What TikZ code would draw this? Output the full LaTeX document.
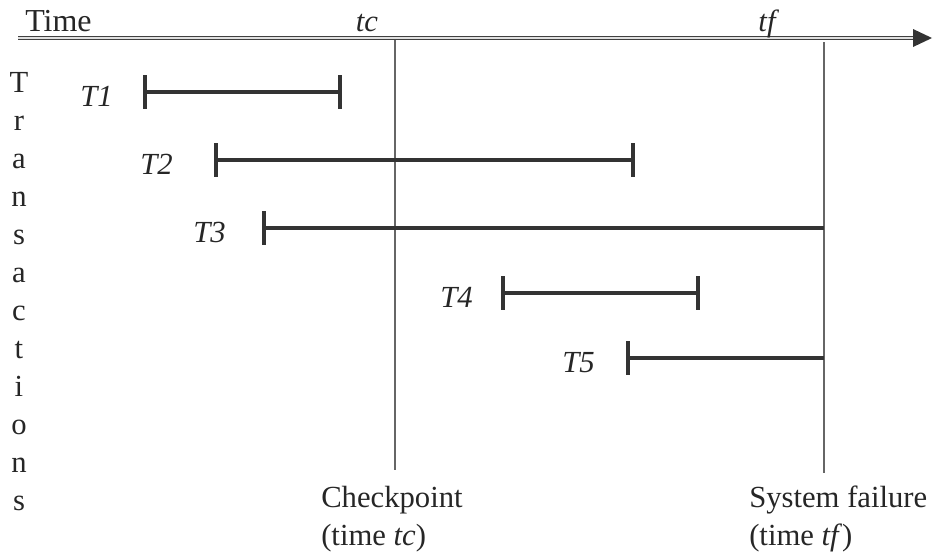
\documentclass[tikz,border=0pt]{standalone}
\usepackage{fontspec}
\setmainfont{Liberation Serif}
\begin{document}
\begin{tikzpicture}[x=0.75pt,y=-0.75pt,
  txt/.style={inner sep=0pt, font=\fontsize{23}{28.5}\selectfont, text=black!85},
  itxt/.style={txt, font=\fontsize{23}{28.5}\selectfont\itshape},
  bar/.style={draw=black!80, line width=3pt},
  tick/.style={draw=black!80, line width=3pt},
  vline/.style={draw=black!60, line width=1.1pt},
  axis/.style={draw=black!75, double=black!12, double distance=1pt, line width=0.9pt}]
\useasboundingbox (0,0) rectangle (939,554);
% time axis
\coordinate (a0) at (18,38);
\coordinate (a1) at (915,38);
\coordinate (tip) at (932,38);
\draw[axis] (a0) -- (a1);
\fill[black!80] (913,29) -- (tip) -- (913,47) -- cycle;
\node[txt, anchor=base west] (time) at (25,31) {\fontsize{24}{28.5}\selectfont Time};
\node[itxt, anchor=base] (tc) at (367,31) {tc};
\node[itxt, anchor=base] (tf) at (767,31) {tf};
% vertical lines
\coordinate (c0) at (395,40);
\coordinate (c1) at (395,470);
\coordinate (f0) at (824,42);
\coordinate (f1) at (824,473);
\draw[vline] (c0) -- (c1);
\draw[vline] (f0) -- (f1);
\node[txt, anchor=base west, align=left] (cp) at (321,545) {Checkpoint\\(time \textit{tc})};
\node[txt, anchor=base west, align=left] (sf) at (749,545) {System failure\\(time \textit{tf})};
% Transactions
\foreach \l [count=\i from 0] in {T,r,a,n,s,a,c,t,i,o,n,s}{
  \node[txt, anchor=base] (tr\i) at (19,92+38*\i) {\l};
}
% bars
\foreach \n/\xs/\xe/\yy/\lx/\st/\et in {1/145/340/92/80/1/1, 2/216/633/160/140/1/1, 3/264/824/228/193/1/0, 4/503/698/293/440/1/1, 5/628/824/358/562/1/0}{
  \coordinate (s\n) at (\xs,\yy);
  \coordinate (e\n) at (\xe,\yy);
  \draw[bar] (s\n) -- (e\n);
  \draw[tick] ([yshift=12.75pt]s\n) -- ([yshift=-12.75pt]s\n);
  \ifnum\et=1 \draw[tick] ([yshift=12.75pt]e\n) -- ([yshift=-12.75pt]e\n);\fi
  \node[itxt, anchor=base west] (L\n) at (\lx,\yy+14) {T\n};
}
\end{tikzpicture}
\end{document}
